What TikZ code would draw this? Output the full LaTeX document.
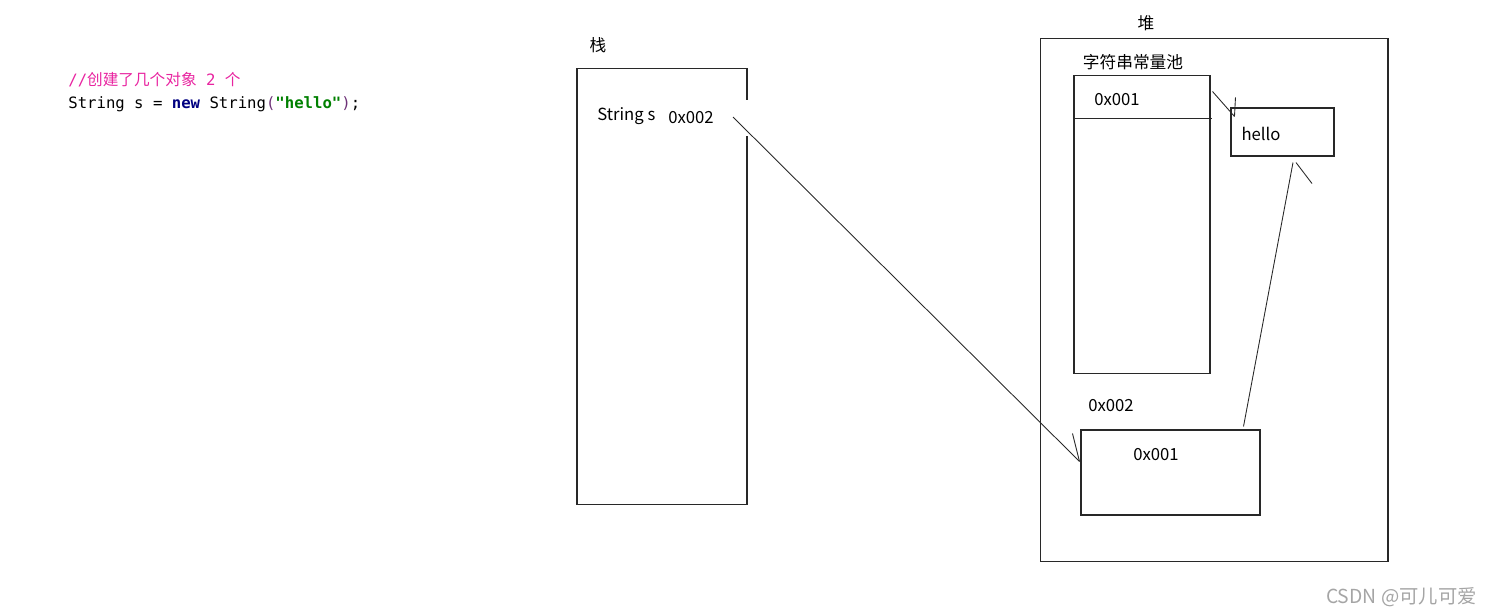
\documentclass[tikz,border=0pt]{standalone}
\usepackage{fontspec}
\setmainfont{Noto Sans CJK SC}
\newfontfamily\cjk{Noto Sans CJK SC}
\newfontfamily\codefont{DejaVu Sans Mono}
\usetikzlibrary{calc}
\definecolor{mLine}{RGB}{40,40,40}
\definecolor{mComment}{RGB}{232,36,160}
\definecolor{mKeyword}{RGB}{0,0,128}
\definecolor{mString}{RGB}{0,128,0}
\definecolor{mParen}{RGB}{110,50,120}
\definecolor{mMark}{RGB}{165,165,165}
\tikzset{
memblock/.style={rectangle,draw=mLine,line width=0.6pt,inner sep=0pt},
memtext/.style={inner sep=0pt,font=\fontsize{9.5}{11}\selectfont},
codeline/.style={anchor=west,inner sep=0pt,font=\codefont\fontsize{8.9}{11}\selectfont},
ref/.style={draw=mLine,line width=0.5pt}
}

\begin{document}
\begin{tikzpicture}[x=0.02cm,y=-0.02cm]
\useasboundingbox (0,0) rectangle (1492,615);
% source code
\node[codeline,text=mComment] (comment) at (68,80) {//{\cjk 创建了几个对象}{} 2 {\cjk 个}};
\node[codeline] (code) at (68,104) {String s = {\bfseries\color{mKeyword}new} String{\color{mParen}(}{\bfseries\color{mString}"hello"}{\color{mParen})};};
% stack
\node[memtext] (stacktitle) at (598,45) {栈};
\node[memblock,minimum width=3.4cm,minimum height=8.74cm] (stack) at (662,286.5) {};
\node[memtext,anchor=west] (svar) at (597,116) {String s};
\node[memtext,anchor=west,fill=white,text width=1.75cm,align=left,minimum height=0.72cm] (sval) at (668,118) {0x002};
% heap
\node[memtext] (heaptitle) at (1146,23) {堆};
\node[memblock,minimum width=6.96cm,minimum height=10.48cm] (heap) at (1214,300) {};
\node[memtext] (pooltitle) at (1133,62) {字符串常量池};
\node[memblock,minimum width=2.72cm,minimum height=5.98cm] (pool) at (1142,224.5) {};
\draw[ref] (pool.west |- 0,118) -- ++(139,0);
\node[memtext] (pval) at (1117,100) {0x001};
\node[memblock,minimum width=2.06cm,minimum height=0.96cm] (hello) at (1282.5,132) {};
\node[memtext] (htext) at (1261,134) {hello};
\node[memtext] (objaddr) at (1111,406) {0x002};
\node[memblock,minimum width=3.58cm,minimum height=1.7cm] (obj) at (1170.5,472.5) {};
\node[memtext] (oval) at (1156,455) {0x001};
% references
\coordinate (sout) at ($(sval.west)+(65,-1)$);
\coordinate (objin) at ($(obj.north west)+(-1,32)$);
\coordinate (helloin) at ($(hello.north west)+(4,9)$);
\coordinate (poolout) at ($(pool.north east)+(2,17)$);
\coordinate (objout) at ($(obj.north east)+(-17,-3)$);
\coordinate (helloup) at ($(hello.south)+(10.5,6)$);
\draw[ref] (sout) -- (objin);
\draw[ref] ($(objin)+(-7,-28)$) -- (objin);
\draw[ref] (poolout) -- (helloin);
\draw[ref] ($(helloin)+(1,-19)$) -- (helloin);
\draw[ref] (objout) -- (helloup);
\draw[ref] ($(helloup)+(3,0)$) -- ($(helloup)+(19,21)$);
% watermark
\node[inner sep=0pt,text=mMark,font=\fontsize{11}{13}\selectfont,anchor=east] (mark) at (1477,597) {CSDN @可儿可爱};
\end{tikzpicture}
\end{document}
